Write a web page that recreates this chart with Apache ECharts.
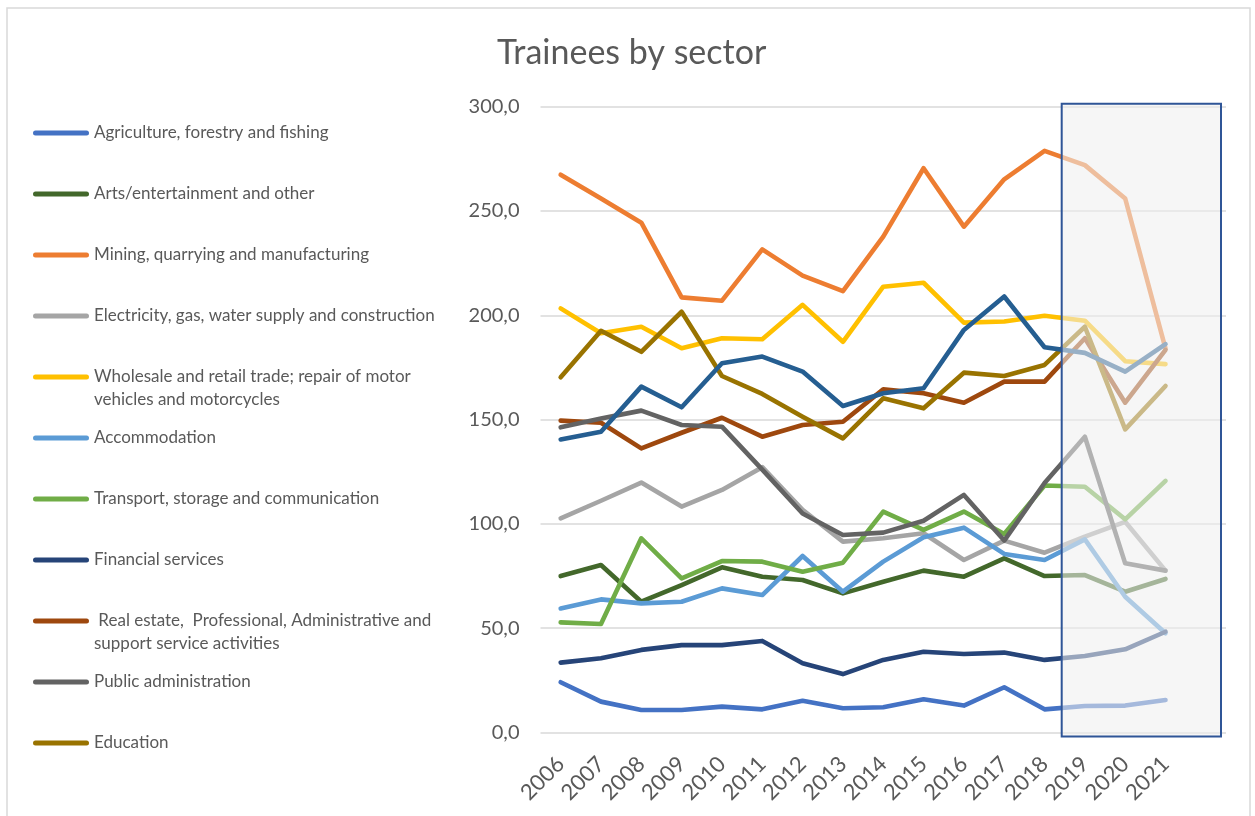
<!DOCTYPE html>
<html>
<head>
<meta charset="utf-8">
<title>Trainees by sector</title>
<script src="https://cdn.jsdelivr.net/npm/echarts@6/dist/echarts.min.js"></script>
<style>
html,body{margin:0;padding:0;background:#fff;}
#chart{width:1255px;height:816px;}
</style>
</head>
<body>
<div id="chart"></div>
<script>
/********
 *  Trainees by sector
 */
var years=['2006','2007','2008','2009','2010','2011','2012','2013','2014','2015','2016','2017','2018','2019','2020','2021'];
var yTicks=[0,50,100,150,200,250,300];

var agriculture=[24.1,14.8,10.8,10.8,12.4,11.1,15.2,11.6,12.1,15.9,12.9,21.7,11.1,12.7,12.9,15.6];
var arts=[75.0,80.3,62.7,70.7,79.2,74.7,73.1,66.7,72.3,77.6,74.7,83.5,75.0,75.5,67.5,73.6];
var mining=[267.4,256.0,244.4,208.6,207.0,231.6,219.0,211.6,237.7,270.5,242.5,265.2,278.8,272.0,256.0,184.0];
var electricity=[102.7,111.1,119.8,108.3,116.3,127.2,106.7,91.5,93.1,95.5,82.7,92.0,86.2,93.9,101.0,77.6];
var wholesale=[203.3,191.4,194.5,184.2,189.0,188.5,205.0,187.3,213.7,215.6,196.5,197.0,199.8,197.4,178.0,176.6];
var accommodation=[59.5,63.8,61.9,62.7,69.1,65.9,84.6,67.5,81.9,93.6,98.2,85.6,82.7,92.6,65.1,47.6];
var transport=[52.8,52.0,93.1,73.9,82.2,81.9,77.1,81.4,105.9,97.1,105.9,95.2,118.4,117.8,102.2,120.6];
var financial=[33.5,35.6,39.6,41.9,41.9,43.9,33.2,28.0,34.8,38.7,37.6,38.3,34.8,36.7,39.9,48.3];
var realEstate=[149.5,148.5,136.2,143.7,150.9,141.8,147.4,149.0,164.5,162.6,158.1,168.2,168.2,189.0,158.1,183.4];
var publicAdmin=[146.3,150.5,154.3,147.4,146.6,126.0,105.0,94.7,95.8,101.5,113.9,92.0,119.6,141.8,81.1,77.6];
var education=[170.3,192.6,182.5,201.7,170.9,162.3,151.4,141.0,160.2,155.4,172.5,170.9,176.2,194.5,145.3,166.1];
// line without legend entry in the original
var unlabelled=[140.5,144.2,165.8,155.9,177.0,180.2,173.0,156.5,162.6,165.0,193.0,209.0,184.7,182.0,173.0,186.2];

var sectors=[
	{name:'Agriculture, forestry and fishing',data:agriculture,color:'#4472C4'},
	{name:'Arts/entertainment and other',data:arts,color:'#43682B'},
	{name:'Mining, quarrying and manufacturing',data:mining,color:'#ED7D31'},
	{name:'Electricity, gas, water supply and construction',data:electricity,color:'#A5A5A5'},
	{name:'Wholesale and retail trade; repair of motor\nvehicles and motorcycles',data:wholesale,color:'#FFC000'},
	{name:'Accommodation',data:accommodation,color:'#5B9BD5'},
	{name:'Transport, storage and communication',data:transport,color:'#70AD47'},
	{name:'Financial services',data:financial,color:'#264478'},
	{name:' Real estate,  Professional, Administrative and\nsupport service activities',data:realEstate,color:'#9E480E'},
	{name:'Public administration',data:publicAdmin,color:'#636363'},
	{name:'Education',data:education,color:'#997300'},
	{name:'Unlabelled sector',data:unlabelled,color:'#255E91',noLegend:true}
];

var txtColor='#595959';
var font='Lato';
// rounded bar; the second (empty) sub path stretches the box so the bar sits on the first text line
var barIcon='path://M2.5,0 L53.5,0 A2.5,2.5 0 0 1 53.5,5 L2.5,5 A2.5,2.5 0 0 1 2.5,0 Z';
var barIconTall=barIcon+' M0,28 L0.01,28 L0,28 Z';

var dom=document.getElementById('chart');
var chart=echarts.init(dom,null,{renderer:'canvas'});

/****
 * legend: one component per row, Excel keeps a fixed row step
 */
function buildLegends(){
	var list=[];
	var row=0;
	for(var i=0;i<sectors.length;i++){
		var s=sectors[i];
		if(s.noLegend) continue;
		var twoLine=s.name.indexOf('\n')>=0;
		var target=133+row*61;
		list.push({
			data:[s.name],
			orient:'vertical',
			left:33,
			top:target-11.5,
			padding:0,
			itemWidth:56,
			itemHeight:twoLine?28:5,
			itemGap:0,
			icon:twoLine?barIconTall:barIcon,
			selectedMode:false,
			textStyle:{color:txtColor,fontFamily:font,fontSize:17,lineHeight:23}
		});
		row++;
	}
	return list;
}

function buildSeries(){
	var list=[];
	for(var i=0;i<sectors.length;i++){
		var s=sectors[i];
		list.push({
			name:s.name,
			type:'line',
			data:s.data,
			symbol:'none',
			color:s.color,
			lineStyle:{width:4.6,color:s.color,cap:'round',join:'round'},
			emphasis:{disabled:true},
			animation:false
		});
	}
	return list;
}

var option={
	backgroundColor:'#ffffff',
	animation:false,
	title:{
		text:'Trainees by sector',
		left:492,
		top:31,
		textStyle:{color:txtColor,fontFamily:font,fontSize:34,fontWeight:'normal'}
	},
	legend:buildLegends(),
	grid:{left:540.5,right:29,top:106.7,bottom:83.5,containLabel:false,outerBoundsMode:'none'},
	xAxis:{
		type:'category',
		boundaryGap:true,
		data:years.concat(['']),
		axisLine:{show:false},
		axisTick:{show:false},
		axisLabel:{color:txtColor,fontFamily:font,fontSize:22,rotate:45,margin:28,interval:0}
	},
	yAxis:{
		type:'value',
		min:yTicks[0],
		max:yTicks[yTicks.length-1],
		interval:50,
		axisLine:{show:false},
		axisTick:{show:false},
		axisLabel:{color:txtColor,fontFamily:font,fontSize:20,margin:21,
			formatter:function(v){return v.toFixed(1).replace('.',',');}},
		splitLine:{lineStyle:{color:'#d9d9d9',width:1.5}}
	},
	series:buildSeries()
};
chart.setOption(option);

/****
 * outer frame and the shaded box over 2019-2021
 */
function drawBoxes(){
	var a=chart.convertToPixel({gridIndex:0},['2018',yTicks[yTicks.length-1]]);
	var b=chart.convertToPixel({gridIndex:0},['2019',yTicks[0]]);
	var gridRight=1255-29;
	var left=(a[0]+b[0])/2-3;
	chart.setOption({
		graphic:[
			{type:'rect',silent:true,z:0,shape:{x:7,y:8,width:1243,height:820},
				style:{fill:null,stroke:'#d9d9d9',lineWidth:1.5}},
			{type:'rect',silent:true,z:100,shape:{x:left,y:a[1]-3,width:gridRight-5-left,height:b[1]-a[1]+7},
				style:{fill:'rgba(239,239,239,0.57)',stroke:'#2F5597',lineWidth:2}}
		]
	});
}
drawBoxes();
</script>
</body>
</html>
